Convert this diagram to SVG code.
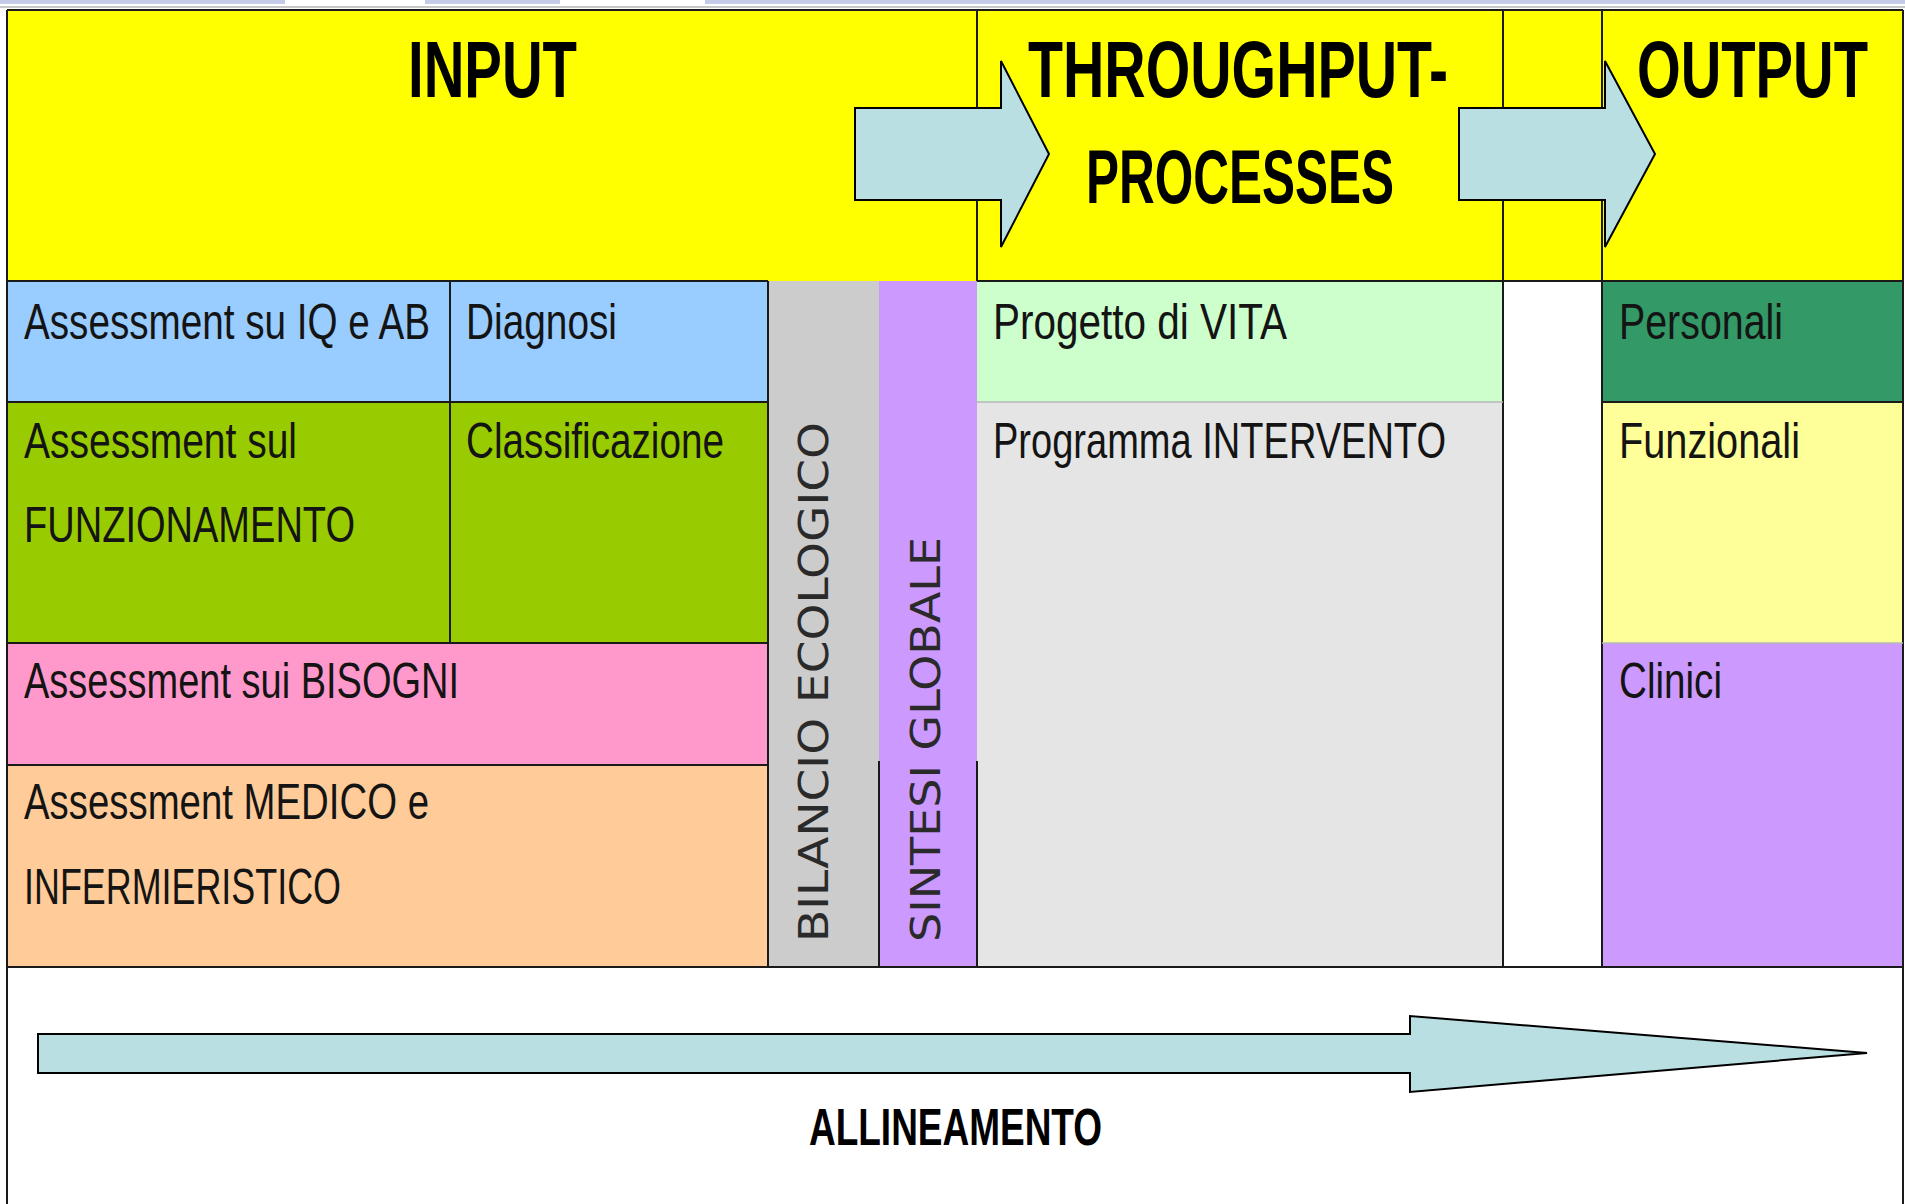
<svg xmlns="http://www.w3.org/2000/svg" width="1905" height="1204" viewBox="0 0 1905 1204">
  <style>
    .lbl { font-family: "Liberation Sans", Arial, sans-serif; font-size: 38.5px; fill: #141414; }
    .hdr { font-family: "Liberation Sans", Arial, sans-serif; font-size: 56px; font-weight: bold; fill: #000; }
    .rot { font-family: "DejaVu Sans", Verdana, sans-serif; font-size: 40px; fill: #2a2a2a; }
    .ln { stroke: #1a1a1a; stroke-width: 2; fill: none; }
    .lnl { stroke: #b8b8b8; stroke-width: 1.5; fill: none; }
    .arr { fill: #B9DFE2; stroke: #000; stroke-width: 2; stroke-linejoin: miter; }
  </style>

  <rect x="0" y="0" width="1905" height="1204" fill="#ffffff"/>
  <g id="top-strip">
    <rect x="0" y="0" width="285" height="4" fill="#c3cbe9"/>
    <rect x="425" y="0" width="135" height="4" fill="#c3cbe9"/>
    <rect x="705" y="0" width="1200" height="4" fill="#c3cbe9"/>
    <rect x="0" y="6" width="1905" height="2" fill="#c8c8c8"/>
  </g>

  <g id="header">
    <rect x="7" y="10" width="1896" height="271" fill="#FFFF00"/>
  </g>

  <g id="assessment-iq-ab">
    <rect x="7" y="281" width="443" height="121" fill="#99CCFF"/>
    <text class="lbl" transform="translate(24,339) scale(1,1.308)" style="font-size:38.45px" textLength="406" lengthAdjust="spacingAndGlyphs">Assessment su IQ e AB</text>
  </g>
  <g id="diagnosi">
    <rect x="450" y="281" width="318" height="121" fill="#99CCFF"/>
    <text class="lbl" transform="translate(466,339) scale(1,1.296)" style="font-size:38.8px" textLength="151" lengthAdjust="spacingAndGlyphs">Diagnosi</text>
  </g>
  <g id="assessment-funzionamento">
    <rect x="7" y="402" width="443" height="241" fill="#99CC00"/>
    <text class="lbl" transform="translate(24,458) scale(1,1.289)" style="font-size:39px" textLength="273" lengthAdjust="spacingAndGlyphs">Assessment sul</text>
    <text class="lbl" transform="translate(24,542) scale(1,1.325)" style="font-size:37.95px" textLength="331" lengthAdjust="spacingAndGlyphs">FUNZIONAMENTO</text>
  </g>
  <g id="classificazione">
    <rect x="450" y="402" width="318" height="241" fill="#99CC00"/>
    <text class="lbl" transform="translate(466,458) scale(1,1.299)" style="font-size:38.7px" textLength="258" lengthAdjust="spacingAndGlyphs">Classificazione</text>
  </g>
  <g id="assessment-bisogni">
    <rect x="7" y="643" width="761" height="122" fill="#FF99CC"/>
    <text class="lbl" transform="translate(24,698) scale(1,1.323)" style="font-size:38px" textLength="435" lengthAdjust="spacingAndGlyphs">Assessment sui BISOGNI</text>
  </g>
  <g id="assessment-medico">
    <rect x="7" y="765" width="761" height="202" fill="#FFCC99"/>
    <text class="lbl" transform="translate(24,819) scale(1,1.311)" style="font-size:38.36px" textLength="405" lengthAdjust="spacingAndGlyphs">Assessment MEDICO e</text>
    <text class="lbl" transform="translate(24,904) scale(1,1.401)" style="font-size:35.9px" textLength="317" lengthAdjust="spacingAndGlyphs">INFERMIERISTICO</text>
  </g>
  <g id="bilancio-ecologico">
    <rect x="768" y="281" width="111" height="686" fill="#CCCCCC"/>
    <text class="rot" transform="translate(828,942) rotate(-90)" x="0" y="0" textLength="520" lengthAdjust="spacingAndGlyphs">BILANCIO ECOLOGICO</text>
  </g>
  <g id="sintesi-globale">
    <rect x="879" y="281" width="98" height="686" fill="#CC99FF"/>
    <text class="rot" transform="translate(940,942) rotate(-90)" x="0" y="0" textLength="405" lengthAdjust="spacingAndGlyphs">SINTESI GLOBALE</text>
  </g>
  <g id="progetto-vita">
    <rect x="977" y="281" width="526" height="121" fill="#CCFFCC"/>
    <text class="lbl" transform="translate(993,339) scale(1,1.255)" style="font-size:40.07px" textLength="294" lengthAdjust="spacingAndGlyphs">Progetto di VITA</text>
  </g>
  <g id="programma-intervento">
    <rect x="977" y="402" width="526" height="565" fill="#E5E5E5"/>
    <text class="lbl" transform="translate(993,458) scale(1,1.327)" style="font-size:37.9px" textLength="453" lengthAdjust="spacingAndGlyphs">Programma INTERVENTO</text>
  </g>
  <g id="gap-column">
    <rect x="1503" y="281" width="99" height="686" fill="#FFFFFF"/>
  </g>
  <g id="personali">
    <rect x="1602" y="281" width="301" height="121" fill="#339966"/>
    <text class="lbl" transform="translate(1619,339) scale(1,1.279)" style="font-size:39.3px" textLength="164" lengthAdjust="spacingAndGlyphs">Personali</text>
  </g>
  <g id="funzionali">
    <rect x="1602" y="402" width="301" height="241" fill="#FFFF99"/>
    <text class="lbl" transform="translate(1619,458) scale(1,1.267)" style="font-size:39.7px" textLength="181" lengthAdjust="spacingAndGlyphs">Funzionali</text>
  </g>
  <g id="clinici">
    <rect x="1602" y="643" width="301" height="324" fill="#CC99FF"/>
    <text class="lbl" transform="translate(1619,698) scale(1,1.303)" style="font-size:38.6px" textLength="103" lengthAdjust="spacingAndGlyphs">Clinici</text>
  </g>

  <g id="grid">
    <path class="ln" d="M7 10 H1903" stroke-width="3"/>
    <path class="ln" d="M7 10 V1204 M1903 10 V1204"/>
    <path class="ln" d="M7 281 H768 M977 281 H1903"/>
    <path class="ln" d="M977 10 V281 M1503 10 V967 M1602 10 V967"/>
    <path class="ln" d="M450 281 V643 M768 281 V967 M879 761 V967 M977 761 V967"/>
    <path class="ln" d="M7 402 H768 M7 643 H768 M7 765 H768 M7 967 H1903 M1602 402 H1903"/>
    <path class="lnl" d="M977 402 H1503 M1602 643 H1903"/>
  </g>

  <g id="connectors">
    <polygon class="arr" points="855,108 1001,108 1001,61 1049,154 1001,247 1001,200 855,200"/>
    <polygon class="arr" points="1459,108 1605,108 1605,61 1655,154 1605,247 1605,200 1459,200"/>
    <polygon class="arr" points="38,1034 1410,1034 1410,1016 1867,1053 1410,1092 1410,1073 38,1073"/>
  </g>

  <g id="titles">
    <text class="hdr" transform="translate(408,97) scale(1,1.414)" style="font-size:56.3px" textLength="169" lengthAdjust="spacingAndGlyphs">INPUT</text>
    <text class="hdr" transform="translate(1028,97) scale(1,1.40)" style="font-size:56.85px" textLength="420" lengthAdjust="spacingAndGlyphs">THROUGHPUT-</text>
    <text class="hdr" transform="translate(1086,203) scale(1,1.549)" style="font-size:49.6px" textLength="308" lengthAdjust="spacingAndGlyphs">PROCESSES</text>
    <text class="hdr" transform="translate(1637,97) scale(1,1.415)" style="font-size:56.2px" textLength="231" lengthAdjust="spacingAndGlyphs">OUTPUT</text>
  </g>
  <g id="allineamento">
    <text class="hdr" transform="translate(809,1145) scale(1,1.40)" style="font-size:36.9px" textLength="293" lengthAdjust="spacingAndGlyphs">ALLINEAMENTO</text>
  </g>
</svg>
